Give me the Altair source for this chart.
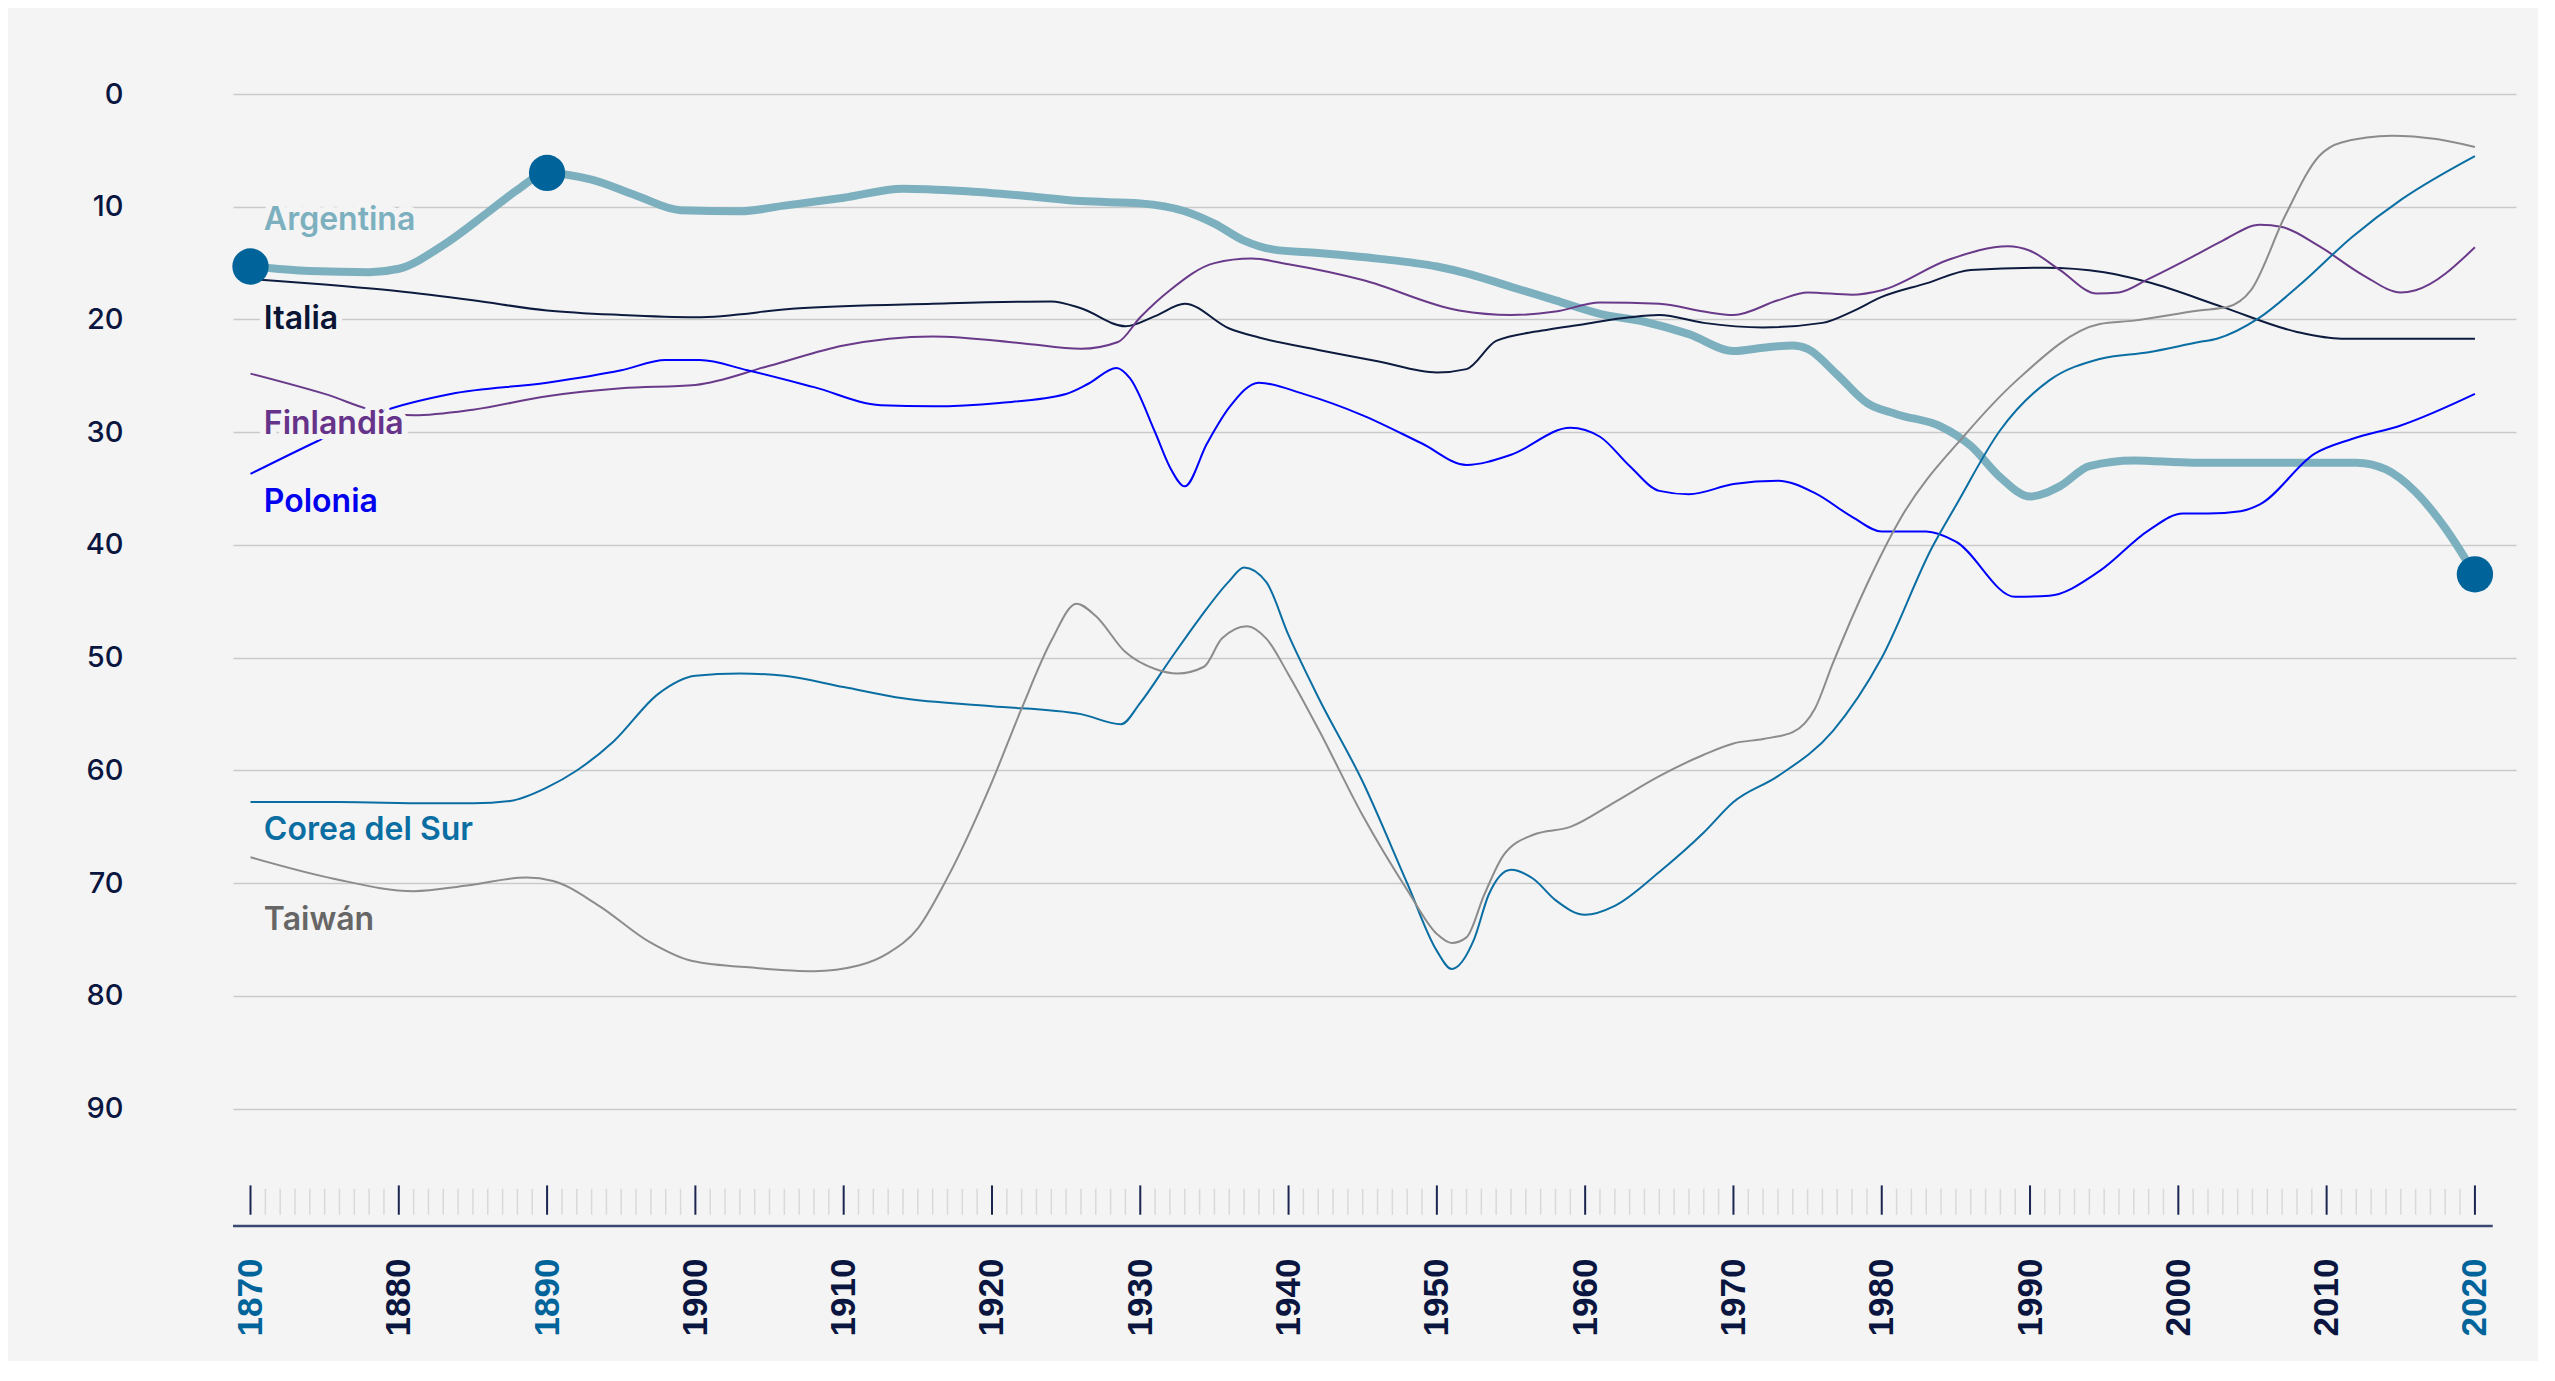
import altair as alt
import pandas as pd

# ---------------- data ----------------
arg_years = [1870, 1874, 1878, 1880, 1883, 1886, 1888, 1890, 1893, 1896, 1899, 1903, 1906, 1910, 1914,
             1918, 1922, 1926, 1930, 1933, 1935, 1937, 1939, 1942, 1946, 1950, 1952, 1955, 1958, 1961,
             1964, 1967, 1970, 1972, 1974, 1975, 1977, 1979, 1981, 1984, 1986, 1988, 1990, 1992, 1994,
             1997, 2001, 2008, 2012, 2014, 2016, 2018, 2020]
arg_vals = [15.3, 15.7, 15.8, 15.5, 13.4, 10.5, 8.5, 7.0, 7.6, 9.0, 10.3, 10.4, 9.9, 9.2, 8.4,
            8.6, 9.0, 9.5, 9.7, 10.4, 11.5, 13.0, 13.8, 14.1, 14.6, 15.3, 15.9, 17.1, 18.3, 19.5,
            20.2, 21.3, 22.8, 22.5, 22.3, 22.6, 24.9, 27.4, 28.4, 29.5, 31.2, 34.0, 35.7, 34.8, 33.0,
            32.5, 32.7, 32.7, 32.7, 33.3, 35.3, 38.5, 42.6]

ita_years = [1870, 1875, 1880, 1885, 1890, 1895, 1900, 1907, 1916, 1924, 1926, 1929, 1931, 1933, 1936,
             1938, 1942, 1946, 1950, 1952, 1954, 1957, 1960, 1963, 1965, 1968, 1972, 1976, 1978, 1980,
             1983, 1986, 1991, 1995, 1998, 2003, 2008, 2011, 2015, 2020]
ita_vals = [16.4, 16.9, 17.5, 18.3, 19.2, 19.6, 19.8, 19.0, 18.6, 18.4, 19.0, 20.6, 19.7, 18.6, 20.8,
            21.6, 22.7, 23.7, 24.7, 24.4, 21.9, 21.0, 20.4, 19.8, 19.6, 20.3, 20.7, 20.3, 19.3, 18.0,
            16.8, 15.6, 15.4, 15.8, 16.7, 18.9, 21.1, 21.7, 21.7, 21.7]

fin_years = [1870, 1875, 1879, 1881, 1885, 1890, 1895, 1900, 1905, 1910, 1916, 1922, 1926, 1928.5, 1930,
             1932, 1935, 1937.5, 1940, 1945, 1951.5, 1955, 1958, 1961, 1965, 1968, 1970, 1973, 1975,
             1978, 1980, 1984.5, 1988.5, 1990, 1992, 1994.5, 1996, 1998, 2001, 2003, 2005.5, 2007,
             2009.5, 2012.5, 2015, 2016, 2020]
fin_vals = [24.8, 26.6, 28.3, 28.5, 28.0, 26.8, 26.1, 25.8, 24.1, 22.3, 21.5, 22.1, 22.6, 22.0, 19.8,
            17.4, 15.0, 14.6, 15.1, 16.5, 19.2, 19.6, 19.3, 18.5, 18.6, 19.3, 19.6, 18.3, 17.6,
            17.8, 17.4, 14.7, 13.5, 13.9, 15.6, 17.7, 17.6, 16.4, 14.4, 13.0, 11.6, 11.8,
            13.5, 16.1, 17.6, 17.4, 13.6]

pol_years = [1870, 1874.5, 1879, 1883.5, 1890, 1895, 1898, 1900.3, 1903.5, 1908, 1912.5, 1916, 1920.5,
             1925, 1926.5, 1928.4, 1929.3, 1931, 1932, 1933, 1934.5, 1936, 1938, 1941, 1945, 1949,
             1952, 1955, 1959, 1961, 1963, 1965, 1967, 1970, 1973, 1975.5, 1978, 1980, 1983, 1985,
             1989, 1991.3, 1994.7, 1998, 2000.3, 2002, 2004.2, 2005.5, 2009.2, 2011.7, 2015, 2020]
pol_vals = [33.7, 30.8, 28.1, 26.6, 25.6, 24.5, 23.6, 23.6, 24.5, 26.0, 27.6, 27.7, 27.4,
            26.6, 25.7, 24.3, 25.2, 30.0, 33.1, 34.8, 31.0, 27.8, 25.6, 26.6, 28.5, 31.0,
            32.9, 32.0, 29.6, 30.4, 33.0, 35.2, 35.5, 34.6, 34.3, 35.4, 37.5, 38.8, 38.8, 39.7,
            44.6, 44.5, 42.3, 38.7, 37.2, 37.2, 37.0, 36.4, 31.9, 30.6, 29.4, 26.6]

kor_years = [1870, 1876, 1882, 1885, 1887.5, 1890, 1892, 1894.5, 1897.5, 1900, 1903, 1906, 1910, 1914,
             1920, 1926, 1928.7, 1930, 1932, 1934, 1936, 1937, 1938.5, 1940, 1942, 1945, 1948, 1950,
             1951, 1952.5, 1953.5, 1955, 1956.5, 1958, 1960, 1962, 1965, 1968, 1970, 1973, 1976.7,
             1980, 1983.4, 1985, 1988, 1991.3, 1994.7, 1998, 2001.4, 2002.6, 2005.4, 2008.3, 2011.7,
             2015.1, 2020]
kor_vals = [62.8, 62.8, 62.9, 62.9, 62.7, 61.5, 60.0, 57.4, 53.2, 51.6, 51.4, 51.6, 52.6, 53.6,
            54.3, 55.0, 55.9, 54.0, 50.2, 46.5, 43.2, 42.0, 43.3, 48.0, 53.5, 61.0, 70.0, 76.0,
            77.6, 75.0, 71.0, 68.8, 69.6, 71.5, 72.8, 72.0, 69.0, 65.5, 62.8, 60.5, 56.5,
            50.0, 40.2, 36.5, 29.8, 25.4, 23.5, 22.9, 22.0, 21.7, 19.9, 16.8, 12.7,
            9.3, 5.5]

twn_years = [1870, 1875.6, 1881, 1884.6, 1888.6, 1890.4, 1893.5, 1896.9, 1899.8, 1904, 1908, 1911, 1913,
             1915, 1917, 1920, 1922, 1924, 1925.7, 1927, 1929, 1931, 1932.5, 1934.3, 1935.5, 1937.2,
             1938.5, 1940, 1942, 1945, 1948, 1950, 1951, 1952, 1953.2, 1954.5, 1956.5, 1959, 1962,
             1965, 1968, 1970, 1972, 1974, 1975.5, 1976.7, 1979, 1981.2, 1985.7, 1989.1, 1994.7,
             1997, 2001.4, 2003.3, 2004.9, 2007.2, 2009.5, 2011, 2014.4, 2017.4, 2020]
twn_vals = [67.7, 69.6, 70.7, 70.2, 69.5, 69.8, 72.0, 75.2, 76.9, 77.5, 77.8, 77.3, 76.2,
            74.0, 69.5, 61.0, 54.5, 48.5, 45.2, 46.3, 49.5, 51.0, 51.4, 50.8, 48.3, 47.2,
            48.3, 51.5, 56.3, 64.0, 70.6, 74.5, 75.3, 74.8, 71.0, 67.5, 65.7, 65.0, 62.8,
            60.5, 58.6, 57.6, 57.2, 56.6, 54.5, 50.5, 43.5, 37.8, 30.1, 25.4, 20.4,
            20.1, 19.2, 18.9, 17.4, 10.8, 5.5, 4.3, 3.7, 4.0, 4.7]

thin_names = ["Italia", "Finlandia", "Polonia", "Corea del Sur", "Taiwán"]
thin_colors = ["#0D1B3E", "#6A3A8A", "#0000FF", "#0A6EA3", "#8C8C8C"]

label_names = ["Argentina", "Italia", "Finlandia", "Polonia", "Corea del Sur", "Taiwán"]
label_vals = [11.2, 20.0, 29.3, 36.2, 65.3, 73.3]
label_colors = ["#7DB0BF", "#0A1535", "#66338A", "#0000EE", "#0A6EA3", "#666666"]
label_year = 1870.9

dot_years = [1870, 1890, 2020]
dot_vals = [15.3, 7.0, 42.6]

y_ticks = [0, 10, 20, 30, 40, 50, 60, 70, 80, 90]
x_labels = [1870, 1880, 1890, 1900, 1910, 1920, 1930, 1940, 1950, 1960, 1970, 1980, 1990, 2000, 2010, 2020]
highlight_years = [1870, 1890, 2020]
tick_years = list(range(1870, 2021))

# ---------------- tables ----------------
series = {
    "Italia": (ita_years, ita_vals),
    "Finlandia": (fin_years, fin_vals),
    "Polonia": (pol_years, pol_vals),
    "Corea del Sur": (kor_years, kor_vals),
    "Taiwán": (twn_years, twn_vals),
}
rows = []
for name, (yrs, vs) in series.items():
    for yv, vv in zip(yrs, vs):
        rows.append({"country": name, "year": yv, "value": vv})
thin_df = pd.DataFrame(rows)
arg_df = pd.DataFrame({"year": arg_years, "value": arg_vals})
dots_df = pd.DataFrame({"year": dot_years, "value": dot_vals})
labels_df = pd.DataFrame({"name": label_names, "value": label_vals, "color": label_colors,
                          "year": [label_year] * len(label_names)})
ticks_df = pd.DataFrame({"year": tick_years,
                         "major": [y % 10 == 0 for y in tick_years]})
ticks_df["top"] = [96.8 if m else 97.1 for m in ticks_df["major"]]
ticks_df["bottom"] = 99.4
base_df = pd.DataFrame({"x": [1868.82], "x2": [2021.2], "y": [100.4]})

X_DOMAIN = [1868.82, 2022.77]
Y_DOMAIN = [0, 100.4]
xs = alt.Scale(domain=X_DOMAIN, nice=False, zero=False)
ys = alt.Scale(domain=Y_DOMAIN, reverse=True, nice=False, zero=False)

hl_test = " || ".join(f"datum.value == {y}" for y in highlight_years)

x_axis = alt.Axis(values=x_labels, grid=False, ticks=False, domain=False, title=None,
                  labelAngle=270, labelPadding=32, labelFont="Liberation Sans",
                  labelFontSize=35, labelFontWeight="bold",
                  labelColor={"condition": {"test": hl_test, "value": "#00649B"}, "value": "#0A1640"},
                  format="d", labelFlush=False, labelOverlap=False)
y_axis = alt.Axis(values=y_ticks, grid=True, gridColor="#C9C9C9", gridWidth=1.5, ticks=False,
                  domain=False, title=None, labelPadding=110, labelFont="Inter", labelFontSize=29,
                  labelFontWeight=500, labelColor="#0A1640")

axes_layer = alt.Chart(arg_df).mark_line(strokeWidth=8, color="#7DB0BF", interpolate="monotone",
                                         strokeCap="round", strokeJoin="round").encode(
    x=alt.X("year:Q", scale=xs, axis=x_axis),
    y=alt.Y("value:Q", scale=ys, axis=y_axis),
)

thin = alt.Chart(thin_df).mark_line(strokeWidth=2, interpolate="monotone").encode(
    x=alt.X("year:Q", scale=xs),
    y=alt.Y("value:Q", scale=ys),
    color=alt.Color("country:N", scale=alt.Scale(domain=thin_names, range=thin_colors), legend=None),
    detail="country:N",
)

ticks = alt.Chart(ticks_df).mark_rule().encode(
    x=alt.X("year:Q", scale=xs),
    y=alt.Y("top:Q", scale=ys),
    y2="bottom:Q",
    color=alt.condition("datum.major", alt.value("#1A2550"), alt.value("#D9D9D9")),
    strokeWidth=alt.condition("datum.major", alt.value(2), alt.value(1.5)),
)

baseline = alt.Chart(base_df).mark_rule(color="#3A4870", strokeWidth=2.5).encode(
    x=alt.X("x:Q", scale=xs), x2="x2:Q", y=alt.Y("y:Q", scale=ys)
)

dots = alt.Chart(dots_df).mark_circle(size=1320, color="#00639A", opacity=1).encode(
    x=alt.X("year:Q", scale=xs),
    y=alt.Y("value:Q", scale=ys),
)

halo = alt.Chart(labels_df).mark_text(align="left", baseline="middle", font="Inter", fontSize=32,
                                      fontWeight=600, stroke="#F4F4F4", strokeWidth=12,
                                      fill="#F4F4F4", strokeJoin="round").encode(
    x=alt.X("year:Q", scale=xs), y=alt.Y("value:Q", scale=ys), text="name:N"
)
labels = alt.Chart(labels_df).mark_text(align="left", baseline="middle", font="Inter", fontSize=32,
                                        fontWeight=600).encode(
    x=alt.X("year:Q", scale=xs), y=alt.Y("value:Q", scale=ys), text="name:N",
    color=alt.Color("color:N", scale=None),
)

chart = alt.layer(axes_layer, thin, ticks, baseline, dots, halo, labels).properties(
    width=2283, height=1132,
    autosize=alt.AutoSizeParams(type="none"),
    padding={"left": 225, "top": 86, "right": 22, "bottom": 135},
    background="#F4F4F4",
).configure_view(stroke=None)

chart.save("out.html", embed_options={"renderer": "svg", "actions": False})
